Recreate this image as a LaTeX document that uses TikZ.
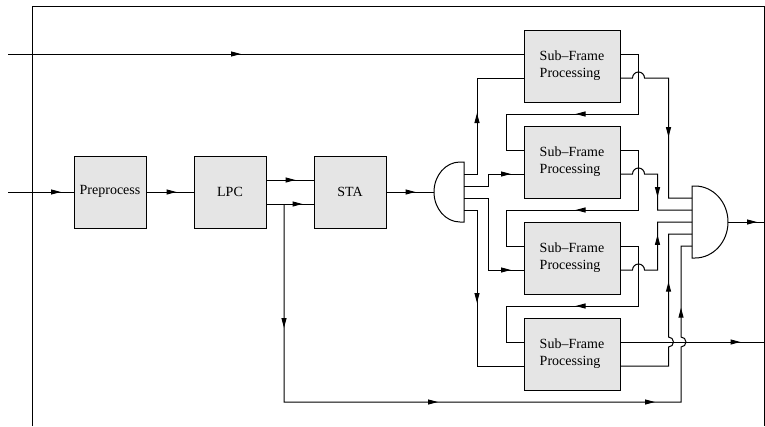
\documentclass[tikz,border=0pt]{standalone}
\usepackage{fontspec}
\setmainfont{Liberation Serif}
\usepackage{tikz}
\usetikzlibrary{arrows.meta,decorations.markings}

\tikzset{
  block/.style={draw, fill=black!10, minimum width=72pt, minimum height=72pt, inner sep=0pt},
  sfblock/.style={block, minimum width=96pt, align=left},
  arr/.style={postaction={decorate, decoration={markings,
      mark=at position #1 with {\arrow{Triangle[length=10pt,width=5pt]}}}}}
}

\begin{document}
\begin{tikzpicture}[x=1pt, y=1pt, line width=1pt, font=\fontsize{14}{17}\selectfont]
    \useasboundingbox (0,0) rectangle (765,-426);
    %% frame
    \draw (32,-426) |- (764,-6) -- (764,-426);

    %% front end
    \node[block] (pre) at (110,-192) {\raisebox{5pt}{Preprocess}};
    \node[block] (lpc) at (230,-192) {LPC};
    \node[block] (sta) at (350,-192) {STA};
    \foreach \i/\y in {1/66,2/162,3/258,4/354}
        \node[sfblock] (sf\i) at (572,-\y) {Sub--Frame\\Processing};

    \coordinate (in1) at (8,-54);
    \coordinate (in2) at (8,-192);
    \coordinate (br) at (284,-204);
    \coordinate (split) at (434,-192);
    \coordinate (merge) at (728,-222);
    \coordinate (out1) at (764,-222);
    \coordinate (out2) at (764,-342);
    \foreach \i/\y in {1/174,2/186,3/198,4/210}
        \coordinate (sp\i) at (464,-\y);
    \foreach \i/\y in {1/198,2/210,3/222,4/234,5/246}
        \coordinate (mg\i) at (692,-\y);

    %% split and merge
    \draw (464,-162) -- (460,-162) arc[start angle=90, end angle=270, x radius=26, y radius=30] -- (464,-222) -- cycle;
    \draw (692,-186) -- (695,-186) arc[start angle=90, end angle=-90, x radius=33, y radius=36] -- (692,-258) -- cycle;

    \draw[arr=233pt] (in1) -- ([yshift=12pt]sf1.west);
    \draw[arr=53pt] (in2) -- (pre);
    \draw[arr=30pt] (pre) -- (lpc);
    \draw[arr=29pt] ([yshift=12pt]lpc.east) -- ([yshift=12pt]sta.west);
    \draw[arr=36pt] ([yshift=-12pt]lpc.east) -- ([yshift=-12pt]sta.west);
    \draw[arr=124pt, arr=352pt, arr=569pt, arr=695pt] (br) |- (681,-402) -- (681,-347)
        arc[start angle=-90, end angle=90, radius=5] |- (mg5);
    \draw[arr=29pt] (sta) -- (split);

    %% into the sub-frames
    \draw[arr=74pt] (sp1) -- ++(13,0) |- ([yshift=-12pt]sf1.west);
    \draw[arr=59pt] (sp2) -- ++(24,0) |- ([yshift=-12pt]sf2.west);
    \draw[arr=119pt] (sp3) -- ++(24,0) |- ([yshift=-12pt]sf3.west);
    \draw[arr=106pt] (sp4) -- ++(13,0) |- ([yshift=-12pt]sf4.west);
    \foreach \a/\b in {1/2,2/3,3/4}
        \draw[arr=141pt] ([yshift=12pt]sf\a.east) -- ++(18,0) -- ++(0,-60) -- ++(-132,0) |- ([yshift=12pt]sf\b.west);

    %% out of the sub-frames
    \draw[arr=114pt] ([yshift=-12pt]sf1.east) -- ++(12,0) arc[start angle=180, end angle=0, radius=6] -- ++(24,0) |- (mg1);
    \draw[arr=67pt] ([yshift=-12pt]sf2.east) -- ++(12,0) arc[start angle=180, end angle=0, radius=6] -- ++(13,0) |- (mg2);
    \draw[arr=79pt] ([yshift=-12pt]sf3.east) -- ++(12,0) arc[start angle=180, end angle=0, radius=6] -- ++(13,0) |- (mg3);
    \draw[arr=138pt] ([yshift=-12pt]sf4.east) -- ++(48,0) -- ++(0,19) arc[start angle=-90, end angle=90, radius=5] |- (mg4);
    \draw[arr=120pt] ([yshift=12pt]sf4.east) -- (out2);
    \draw[arr=29pt] (merge) -- (out1);
\end{tikzpicture}
\end{document}
